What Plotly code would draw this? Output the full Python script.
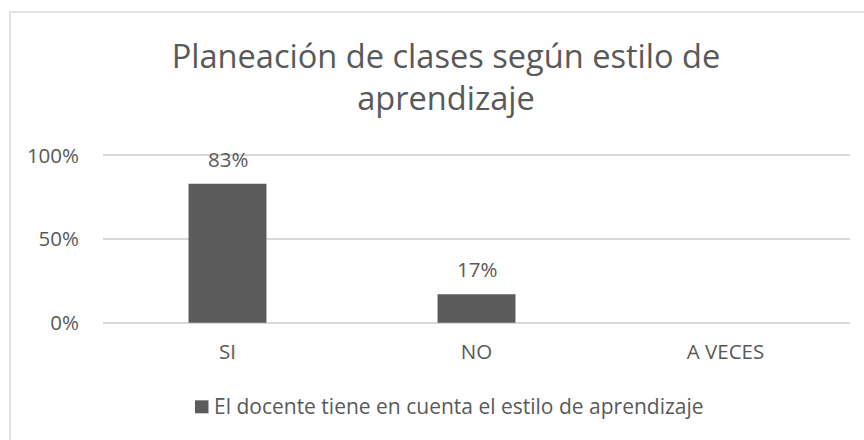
import plotly.graph_objects as go

categories = ["SI", "NO", "A VECES"]
values = [0.83, 0.17, 0]
series_name = "El docente tiene en cuenta el estilo de aprendizaje"
title_text = "Planeación de clases según estilo de<br>aprendizaje"
tick_vals = [0, 0.5, 1]
tick_text = ["0%", "50%", "100%"]

labels = [f"{round(v*100)}%" if v > 0 else "" for v in values]

W, H = 864, 440
PAD = 0.02
UNIT = 168.0  # pixels per 100%
L, R = 103, 14
T = 155 - PAD * UNIT
B = H - (323 + PAD * UNIT)
pw, ph = W - L - R, H - T - B

FONT = "Open Sans"
GREY = "#595959"
BAR = "#5b5b5b"
FS = 20.5

fig = go.Figure()
fig.add_trace(go.Bar(
    x=categories, y=values, name=series_name,
    marker=dict(color=BAR, line=dict(width=0)),
    showlegend=False,
))

# data labels
for c, v, t in zip(categories, values, labels):
    if t:
        fig.add_annotation(x=c, y=v, xref="x", yref="y", text=t, showarrow=False,
                           yanchor="bottom", yshift=9,
                           font=dict(family=FONT, size=FS, color=GREY))

def px_x(p):
    return (p - L) / pw

def px_y(p):
    return (H - B - p) / ph

# legend (square + text)
fig.add_shape(type="rect", xref="paper", yref="paper",
              x0=px_x(195), x1=px_x(208.5), y0=px_y(414), y1=px_y(401),
              fillcolor=BAR, line=dict(width=0))
fig.add_annotation(x=px_x(212), y=px_y(407), xref="paper", yref="paper",
                   text=series_name, showarrow=False, xanchor="left", yanchor="middle",
                   font=dict(family=FONT, size=21, color=GREY))

# chart border
fig.add_shape(type="rect", xref="paper", yref="paper",
              x0=px_x(10), x1=px_x(875), y0=px_y(450), y1=px_y(11),
              line=dict(color="#d9d9d9", width=1.5), fillcolor="rgba(0,0,0,0)",
              layer="below")

fig.update_layout(
    width=W, height=H,
    margin=dict(l=L, r=R, t=T, b=B),
    paper_bgcolor="white", plot_bgcolor="white",
    bargap=0.687,
    title=dict(text=title_text, x=446 / W, xanchor="center", xref="container",
               y=1 - 68 / H, yanchor="middle", yref="container",
               font=dict(family=FONT, size=32.6, color=GREY)),
    xaxis=dict(showgrid=False, showline=False, ticks="", zeroline=False,
               ticklabelstandoff=int(round(14 - PAD * UNIT)),
               tickfont=dict(family=FONT, size=FS, color=GREY)),
    yaxis=dict(range=[-PAD, 1 + PAD], tickvals=tick_vals, ticktext=tick_text,
               showgrid=True, gridcolor="#d9d9d9", gridwidth=1.5,
               zeroline=False, showline=False, ticks="",
               ticklabelstandoff=23,
               tickfont=dict(family=FONT, size=FS, color=GREY)),
    showlegend=False,
)

fig.write_html("out.html", config={"displayModeBar": False},
               post_script="document.body.style.margin='0';document.body.style.overflow='hidden';")
